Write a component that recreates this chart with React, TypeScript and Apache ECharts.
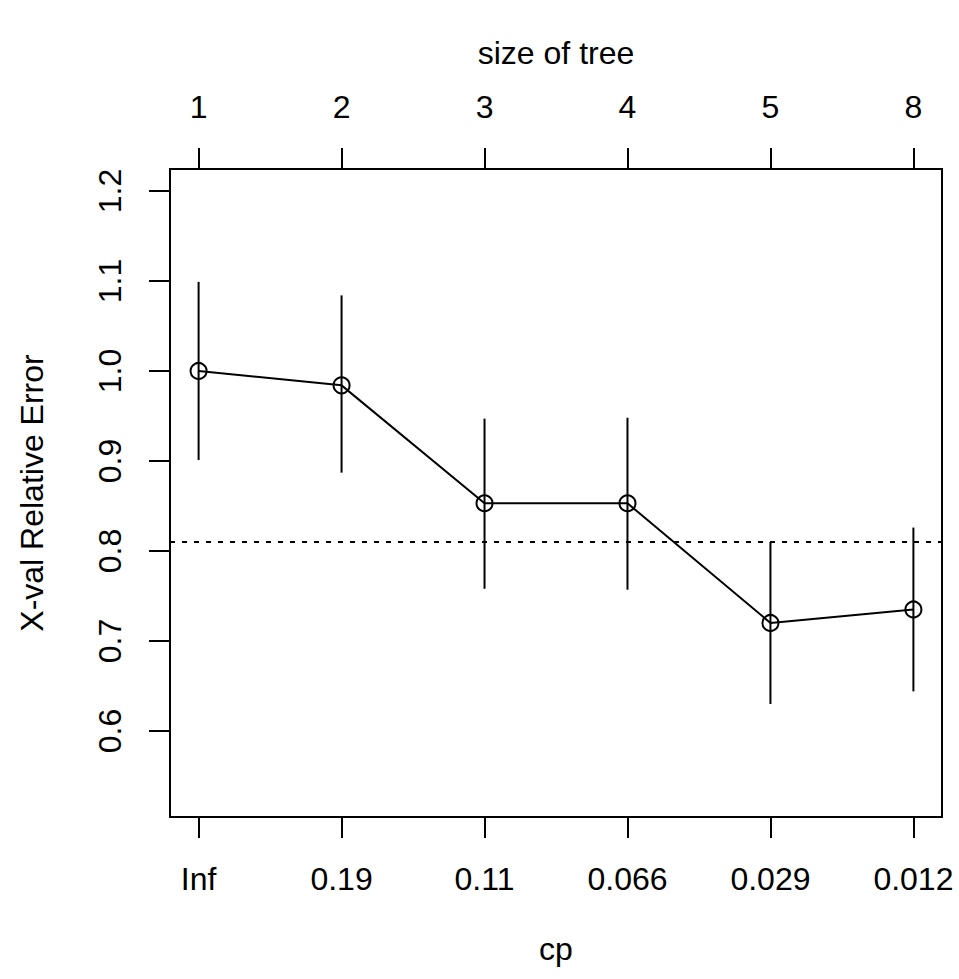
import React, { useEffect, useRef } from "react";
import * as echarts from "echarts";

const positions = [1, 2, 3, 4, 5, 6];
const cpLabels = ["Inf", "0.19", "0.11", "0.066", "0.029", "0.012"];
const treeSizes = ["1", "2", "3", "4", "5", "8"];
const xerror = [1.0, 0.984, 0.853, 0.853, 0.72, 0.735];
const upper = [1.099, 1.084, 0.947, 0.948, 0.81, 0.826];
const lower = [0.901, 0.887, 0.758, 0.757, 0.63, 0.644];
const threshold = 0.81;
const yTicks = [0.6, 0.7, 0.8, 0.9, 1.0, 1.1, 1.2];

const FONT = '"Liberation Sans", Arial, Helvetica, sans-serif';
const FS = 32;

export default function App() {
  const ref = useRef<HTMLDivElement>(null);
  useEffect(() => {
    const chart = echarts.init(ref.current!, null, { renderer: "svg" });
    const xCommon = {
      type: "value",
      min: 0.8,
      max: 6.2,
      splitLine: { show: false },
      axisLine: { show: false },
      axisTick: {
        show: true,
        length: 21,
        inside: false,
        customValues: positions,
        lineStyle: { color: "#000", width: 2 },
      },
    };
    chart.setOption({
      animation: false,
      backgroundColor: "#fff",
      textStyle: { fontFamily: FONT, color: "#000" },
      grid: {
        left: 170,
        right: 17,
        top: 169,
        bottom: 162,
        show: true,
        borderColor: "#000",
        borderWidth: 2,
        backgroundColor: "transparent",
      },
      xAxis: [
        {
          ...xCommon,
          position: "bottom",
          name: "cp",
          nameLocation: "middle",
          nameGap: 116,
          nameTextStyle: { fontSize: FS, fontFamily: FONT, color: "#000" },
          axisLabel: {
            customValues: positions,
            margin: 46,
            fontSize: FS,
            fontFamily: FONT,
            color: "#000",
            formatter: (v: number) => cpLabels[Math.round(v) - 1] ?? "",
          },
        },
        {
          ...xCommon,
          position: "top",
          name: "size of tree",
          nameLocation: "middle",
          nameGap: 100,
          nameTextStyle: { fontSize: FS, fontFamily: FONT, color: "#000" },
          axisLabel: {
            customValues: positions,
            margin: 46,
            fontSize: FS,
            fontFamily: FONT,
            color: "#000",
            formatter: (v: number) => treeSizes[Math.round(v) - 1] ?? "",
          },
        },
      ],
      yAxis: {
        type: "value",
        min: 0.5044,
        max: 1.2244,
        splitLine: { show: false },
        axisLine: { show: false },
        name: "X-val Relative Error",
        nameLocation: "middle",
        nameGap: 122,
        nameRotate: 90,
        nameTextStyle: { fontSize: FS, fontFamily: FONT, color: "#000" },
        axisTick: {
          show: true,
          length: 21,
          inside: false,
          customValues: yTicks,
          lineStyle: { color: "#000", width: 2 },
        },
        axisLabel: {
          customValues: yTicks,
          rotate: 90,
          margin: 44,
          fontSize: FS,
          fontFamily: FONT,
          color: "#000",
          formatter: (v: number) => v.toFixed(1),
        },
      },
      series: [
        {
          type: "custom",
          xAxisIndex: 0,
          yAxisIndex: 0,
          data: positions.map((p, i) => [p, lower[i], upper[i]]),
          renderItem: (params: any, api: any) => {
            const a = api.coord([api.value(0), api.value(1)]);
            const b = api.coord([api.value(0), api.value(2)]);
            return {
              type: "line",
              shape: { x1: a[0], y1: a[1], x2: b[0], y2: b[1] },
              style: { stroke: "#000", lineWidth: 2 },
            };
          },
          z: 2,
        },
        {
          type: "line",
          xAxisIndex: 0,
          yAxisIndex: 0,
          data: positions.map((p, i) => [p, xerror[i]]),
          symbol: "circle",
          symbolSize: 16,
          lineStyle: { color: "#000", width: 2 },
          itemStyle: { color: "rgba(0,0,0,0)", borderColor: "#000", borderWidth: 2 },
          z: 3,
          markLine: {
            silent: true,
            symbol: "none",
            label: { show: false },
            lineStyle: { color: "#000", width: 2, type: [5, 7] },
            data: [{ yAxis: threshold }],
          },
        },
      ],
    });
    return () => chart.dispose();
  }, []);
  return (
    <div
      ref={ref}
      style={{ position: "fixed", left: 0, top: 0, width: 959, height: 979 }}
    />
  );
}
